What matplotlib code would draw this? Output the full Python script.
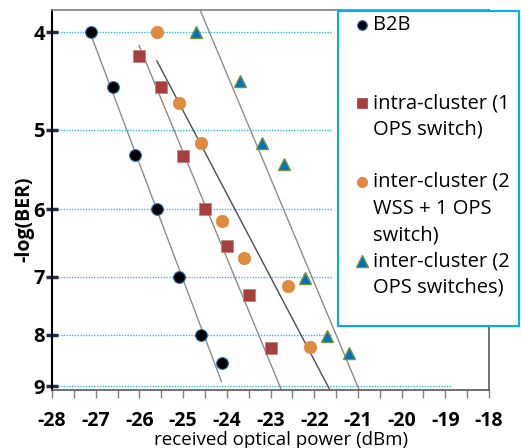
import matplotlib
matplotlib.use("Agg")
import matplotlib.pyplot as plt
from matplotlib.patches import Rectangle
from matplotlib.lines import Line2D

plt.rcParams['font.family'] = ['Open Sans', 'DejaVu Sans']

# data
b2b_x = [-27.1, -26.6, -26.1, -25.6, -25.1, -24.6, -24.1]
b2b_y = [4.0, 4.53, 5.30, 6.0, 7.0, 8.0, 8.53]

intra_x = [-26.0, -25.5, -25.0, -24.5, -24.0, -23.5, -23.0]
intra_y = [4.22, 4.53, 5.31, 6.0, 6.52, 7.30, 8.24]

inter_wss_x = [-25.6, -25.1, -24.6, -24.1, -23.6, -22.6, -22.1]
inter_wss_y = [4.0, 4.70, 5.15, 6.16, 6.71, 7.16, 8.22]

inter_ops_x = [-24.7, -23.7, -23.2, -22.7, -22.2, -21.7, -21.2]
inter_ops_y = [4.0, 4.47, 5.16, 5.41, 7.03, 8.02, 8.34]

# fitted lines (end points)
fit_x = [[-27.13, -24.12], [-26.01, -22.75], [-25.6, -21.64], [-24.61, -20.97]]
fit_y = [[4.0, 8.91], [4.12, 9.08], [4.27, 9.08], [3.80, 9.08]]
fit_colors = ['#8c8c8c', '#8c8c8c', '#4d4d4d', '#8c8c8c']

y_ticks = [4, 5, 6, 7, 8, 9]
x_ticks = list(range(-28, -17))

labels = ['B2B', 'intra-cluster (1\nOPS switch)',
          'inter-cluster (2\nWSS + 1 OPS\nswitch)', 'inter-cluster (2\nOPS switches)']

W, H = 521, 448
fig = plt.figure(figsize=(W / 100, H / 100), dpi=100)
ax = fig.add_axes([52 / W, 1 - 390 / H, 437 / W, 380 / H])

ax.set_yscale('log')
ax.set_xlim(-28, -18)
ax.set_ylim(9.08, 3.80)

# dotted grid lines
for yv in y_ticks:
    xend = -18.85 if yv == 9 else -21.6
    ax.hlines(yv, -28, xend, colors='#33b8ef', linestyles=(0, (1, 1)), lw=1.0, zorder=1)

for fx, fy, c in zip(fit_x, fit_y, fit_colors):
    ax.plot(fx, fy, color=c, lw=1.0, zorder=2)

ax.plot(b2b_x, b2b_y, 'o', ms=8.5, mfc='black', mec='#2e75b6', mew=0.8, zorder=4)
ax.plot(intra_x, intra_y, 's', ms=8.5, mfc='#a5403e', mec='#c87a78', mew=0.5, zorder=4)
ax.plot(inter_wss_x, inter_wss_y, 'o', ms=9, mfc='#df8a3d', mec='#df8a3d', mew=0.5, zorder=4)
ax.plot(inter_ops_x, inter_ops_y, '^', ms=9, mfc='#0070c0', mec='#77933c', mew=1.0, zorder=4)

ax.set_yticks(y_ticks)
ax.set_yticklabels([str(v) for v in y_ticks], fontsize=14.5, fontweight='bold')
ax.yaxis.set_minor_locator(matplotlib.ticker.NullLocator())
ax.tick_params(axis='y', which='major', direction='inout', length=8, width=2.5,
               color='#1f2d4f', pad=1)

ax.set_xticks(x_ticks)
ax.set_xticklabels([str(v) for v in x_ticks], fontsize=14, fontweight='bold')
ax.set_xticks([v + 0.5 for v in x_ticks[:-1]], minor=True)
ax.tick_params(axis='x', which='both', direction='out', length=6, width=1,
               color='#7f7f7f', pad=9)

ax.spines['left'].set_color('black')
ax.spines['left'].set_linewidth(1.5)
ax.spines['bottom'].set_color('#595959')
ax.spines['top'].set_color('#7f7f7f')
ax.spines['right'].set_color('#595959')
for s in ['bottom', 'top', 'right']:
    ax.spines[s].set_linewidth(1.2)

ax.set_xlabel('received optical power (dBm)', fontsize=13.5)
ax.xaxis.set_label_coords(0.524, -(440 - 390) / 380)
ax.xaxis.label.set_va('center')
ax.set_ylabel('-log(BER)', fontsize=14, fontweight='bold')
ax.yaxis.set_label_coords(-(52 - 24) / 437, 0.45)
ax.yaxis.label.set_va('center')

# legend box drawn by hand
def fx(px):
    return px / W

def fy(py):
    return 1 - py / H

fig.add_artist(Rectangle((fx(338), fy(326)), 181 / W, 315 / H, transform=fig.transFigure,
                         facecolor='white', edgecolor='#00b0f0', lw=1.5, zorder=5))

marker_styles = [
    dict(marker='o', ms=7, mfc='black', mec='#2e75b6', mew=0.8),
    dict(marker='s', ms=7, mfc='#a5403e', mec='#a5403e', mew=0.5),
    dict(marker='o', ms=7.5, mfc='#df8a3d', mec='#df8a3d', mew=0.5),
    dict(marker='^', ms=8, mfc='#0070c0', mec='#77933c', mew=1.0),
]
entry_top = [25, 103, 182, 261]
line_gap = 26.5
for lab, st, ytop in zip(labels, marker_styles, entry_top):
    fig.add_artist(Line2D([fx(362)], [fy(ytop)], transform=fig.transFigure, ls='none',
                          zorder=6, **st))
    for k, part in enumerate(lab.split('\n')):
        fig.text(fx(373), fy(ytop + k * line_gap), part, fontsize=14.5, va='center',
                 ha='left', zorder=6)

fig.savefig('out.png', dpi=100)
